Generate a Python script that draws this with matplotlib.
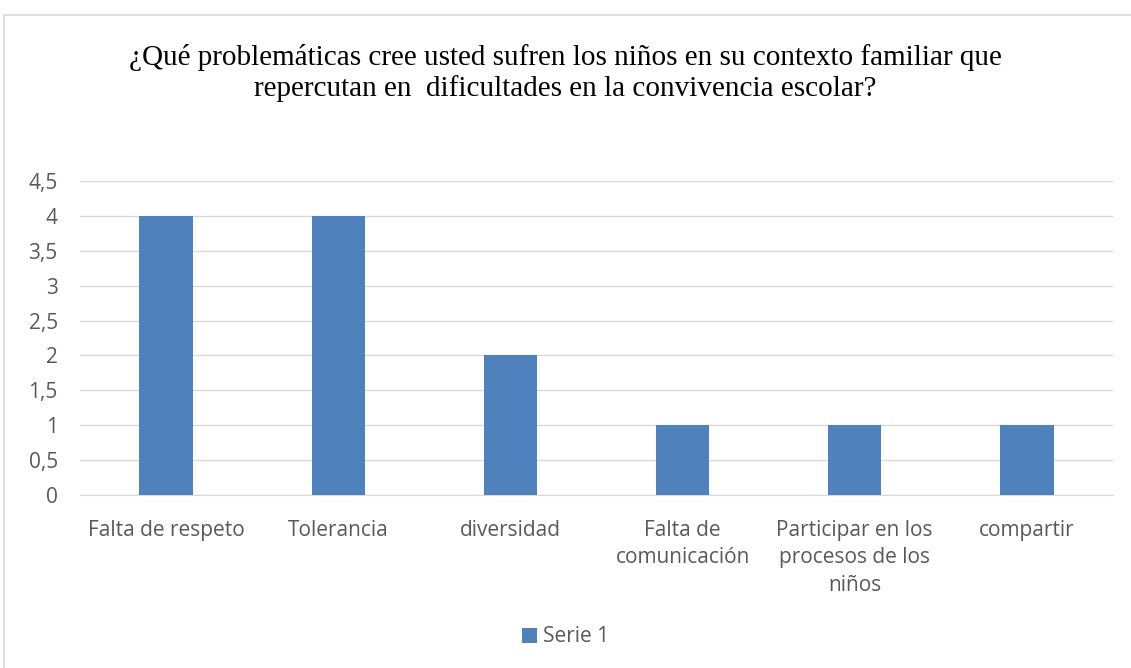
import matplotlib
matplotlib.use("Agg")
import matplotlib.pyplot as plt
from matplotlib.patches import Rectangle

categorias = ["Falta de respeto", "Tolerancia", "diversidad", "Falta de\ncomunicación",
              "Participar en los\nprocesos de los\nniños", "compartir"]
valores = [4, 4, 2, 1, 1, 1]
yticks = [0, 0.5, 1, 1.5, 2, 2.5, 3, 3.5, 4, 4.5]
ytick_labels = ["0", "0,5", "1", "1,5", "2", "2,5", "3", "3,5", "4", "4,5"]

fig = plt.figure(figsize=(11.31, 6.68), dpi=100)
fig.patches.append(Rectangle((4 / 1131, -0.01), 1.1, 1 - 15 / 668 + 0.01, transform=fig.transFigure,
                             fill=False, edgecolor="#D9D9D9", linewidth=1.2))

ax = fig.add_axes([80 / 1131, 1 - 495 / 668, (1113 - 80) / 1131, (495 - 181) / 668])
x = range(len(categorias))
ax.bar(x, valores, width=0.31, color="#4F81BD", label="Serie 1", zorder=3)
ax.set_xlim(-0.5, len(categorias) - 0.5)
ax.set_ylim(0, 4.5)
ax.set_yticks(yticks)
ax.set_yticklabels(ytick_labels)
ax.set_xticks(list(x))
ax.set_xticklabels(categorias, linespacing=1.4)
ax.grid(axis="y", color="#D9D9D9", linewidth=1, zorder=0)
for s in ["top", "right", "left"]:
    ax.spines[s].set_visible(False)
ax.spines["bottom"].set_color("#D9D9D9")
ax.tick_params(axis="both", length=0, labelsize=15, labelcolor="#595959", labelfontfamily="Open Sans")
ax.tick_params(axis="x", pad=18)
ax.tick_params(axis="y", pad=16)

fig.text(0.5, 1 - 73 / 668, "¿Qué problemáticas cree usted sufren los niños en su contexto familiar que\n"
         "repercutan en  dificultades en la convivencia escolar?",
         ha="center", va="center", fontsize=21, family="Liberation Serif", linespacing=1.15)

ax.legend(loc="center", bbox_to_anchor=(0.5, 1 - 637 / 668), bbox_transform=fig.transFigure,
          frameon=False, handlelength=0.75, handleheight=0.75, handletextpad=0.3,
          prop={"family": "Open Sans", "size": 15}, labelcolor="#595959")

fig.savefig("out.png", dpi=100)
